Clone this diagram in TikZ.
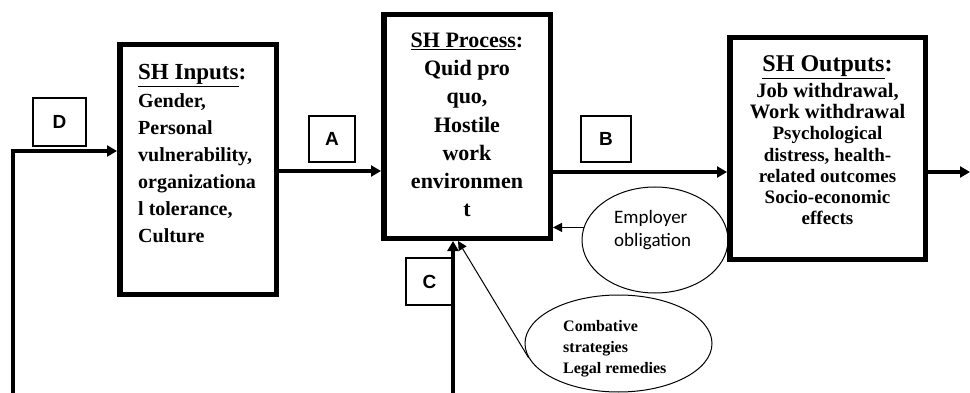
\documentclass[tikz,border=0pt]{standalone}
\usepackage{fontspec}
\setmainfont{Liberation Serif}
\newfontfamily\arialf{Liberation Sans}
\newfontfamily\calf{Carlito}
\usetikzlibrary{arrows.meta,shapes.geometric}
\begin{document}
\begin{tikzpicture}[x=1pt,y=-1pt,
  bigbox/.style={draw, line width=5.5pt, inner sep=0pt, fill=white},
  letterbox/.style={draw, line width=1.2pt, inner sep=0pt, font=\arialf\bfseries\fontsize{19}{19}\selectfont},
  oval/.style={ellipse, draw, line width=1pt, inner sep=0pt},
  thickarrow/.style={line width=4pt, -{Triangle[length=10pt,width=11pt]}},
  thinarrow/.style={line width=1pt, -{Triangle[length=9pt,width=9pt]}},
  boxtext/.style={inner sep=0pt, font=\bfseries}
]
\useasboundingbox (0,0) rectangle (970,393);

% main boxes
\node[bigbox, minimum width=156.5pt, minimum height=249.5pt] (inp) at (198,169.5) {};
\node[bigbox, minimum width=166.5pt, minimum height=223.5pt] (proc) at (467,126.5) {};
\node[bigbox, minimum width=195.5pt, minimum height=221.5pt] (outb) at (827.5,148.5) {};

% texts in boxes (base anchor = baseline of last line)
\node[boxtext, anchor=base west, font=\bfseries\fontsize{23}{23}\selectfont] (inptitle) at (138,80)
  {\underline{SH Inputs}:};
\node[boxtext, anchor=base west, align=left, font=\bfseries\fontsize{20}{27}\selectfont] (inptext) at (138,242)
  {Gender,\\Personal\\vulnerability,\\organizationa\\l tolerance,\\Culture};
\node[boxtext, anchor=base, align=center, font=\bfseries\fontsize{22}{28.3}\selectfont] (proctext) at (467,217)
  {\underline{SH Process}:\\Quid pro\\quo,\\Hostile\\work\\environmen\\t};
\node[boxtext, anchor=base, font=\bfseries\fontsize{24}{24}\selectfont] (outtitle) at (827.5,72)
  {\underline{SH Outputs}:};
\node[boxtext, anchor=base, align=center, font=\bfseries\fontsize{19}{21.3}\selectfont] (outtext) at (827.5,225)
  {{\fontsize{20.5}{21.3}\selectfont Job withdrawal,}\\{\fontsize{20.5}{21.3}\selectfont Work withdrawal}\\Psychological\\distress, health-\\related outcomes\\Socio-economic\\effects};

% letter boxes
\node[letterbox, minimum width=53pt, minimum height=48pt] (lD) at (59.5,122) {D};
\node[letterbox, minimum width=46pt, minimum height=46pt] (lA) at (332,139) {A};
\node[letterbox, minimum width=50pt, minimum height=46pt] (lB) at (606,139) {B};
\node[letterbox, minimum width=47pt, minimum height=47pt] (lC) at (429.5,281.5) {C};

% ellipses
\node[oval, minimum width=146pt, minimum height=106pt] (emp) at (655,240) {};
\node[oval, minimum width=187pt, minimum height=97pt] (comb) at (618.5,343.5) {};
\node[inner sep=0pt, anchor=base west, align=left, font=\calf\fontsize{19}{23}\selectfont] (emptext) at (614,247)
  {Employer\\obligation};
\node[inner sep=0pt, anchor=base west, align=left, font=\bfseries\fontsize{16}{21}\selectfont] (combtext) at (563,373)
  {Combative\\strategies\\Legal remedies};

% connectors
\coordinate (dbot) at (13,395);
\coordinate (dy) at (0,151);
\coordinate (ay) at (0,171);
\coordinate (by) at (0,172);
\coordinate (outend) at (970,172);
\coordinate (cbot) at (453,395);
\draw[thickarrow] (dbot) |- (inp.west |- dy);
\draw[thickarrow] (inp.east |- ay) -- (proc.west |- ay);
\draw[thickarrow] (proc.east |- by) -- (outb.west |- by);
\draw[thickarrow] (outb.east |- outend) -- (outend);
\draw[thickarrow] (cbot) -- (cbot |- proc.south);
\draw[thinarrow] (emp.170) -- (emp.170 -| proc.east);
\draw[thinarrow] (comb.189) -- ([xshift=-9pt]proc.south);
\end{tikzpicture}
\end{document}
